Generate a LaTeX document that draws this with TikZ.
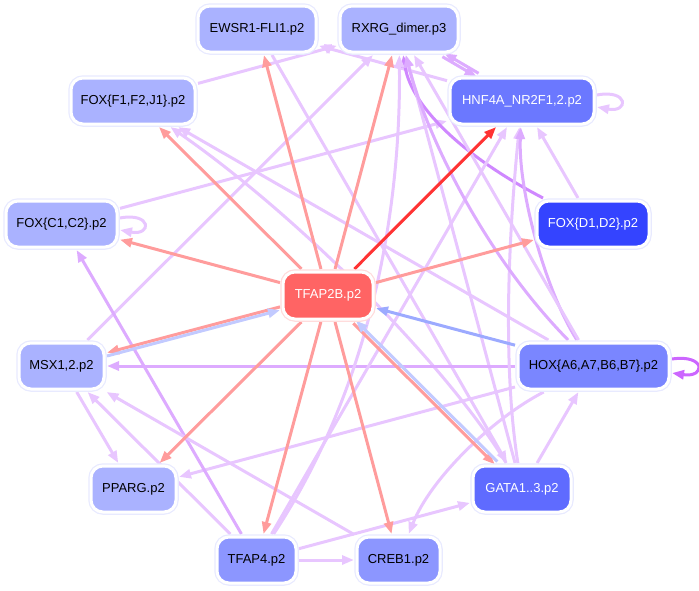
\documentclass[tikz,border=0pt]{standalone}
\usepackage{fontspec}
\setmainfont{Liberation Sans}
\usetikzlibrary{arrows.meta}
\definecolor{nlight}{HTML}{AAB2FF}
\definecolor{nmid}{HTML}{8C96FF}
\definecolor{nhox}{HTML}{7A86FF}
\definecolor{nhnf}{HTML}{6B78FF}
\definecolor{ngata}{HTML}{5F6BFF}
\definecolor{nfoxd}{HTML}{3444FF}
\definecolor{ntf}{HTML}{FF6464}
\definecolor{ringb}{HTML}{E8EAFF}
\definecolor{ringr}{HTML}{FFDCDC}
\definecolor{epink}{HTML}{FF9C9C}
\definecolor{ered}{HTML}{FF3333}
\definecolor{elb}{HTML}{C2CAFF}
\definecolor{ebl}{HTML}{9CAAFF}
\definecolor{elav}{HTML}{E8C6FF}
\definecolor{elavm}{HTML}{DDABFF}
\definecolor{elavd}{HTML}{CF88FF}
\definecolor{eloop}{HTML}{CC66FF}
\pgfdeclarelayer{edgelayer}
\pgfsetlayers{edgelayer,main}
\tikzset{
  nd/.style n args={3}{rectangle, rounded corners=12pt, minimum height=46pt,
    inner sep=0pt, outer sep=3pt, fill=#1, text=#2,
    preaction={draw=#3, line width=5.5pt}, draw=white, line width=3pt,
    font=\fontsize{13}{15}\selectfont},
  ed/.style={line width=3pt, -{Triangle[length=12pt,width=9pt]}},
  pk/.style={ed, draw=epink},
  rd/.style={ed, draw=ered},
  lb/.style={ed, draw=elb},
  bl/.style={ed, draw=ebl},
  lv/.style={ed, draw=elav},
  lvm/.style={ed, draw=elavm},
  lvd/.style={ed, draw=elavd},
  lvl/.style={ed, draw=eloop}
}
\begin{document}
\begin{tikzpicture}[x=1pt,y=-1pt]
\useasboundingbox (0,0) rectangle (699,590);
\node[nd={nlight}{black}{ringb}, minimum width=118pt] (ewsr1) at (257,29) {EWSR1-FLI1.p2};
\node[nd={nlight}{black}{ringb}, minimum width=118pt] (rxrg) at (399,29) {RXRG\_dimer.p3};
\node[nd={nlight}{black}{ringb}, minimum width=124pt] (foxf) at (133,101) {FOX\{F1,F2,J1\}.p2};
\node[nd={nhnf}{white}{ringb}, minimum width=144pt] (hnf4a) at (522,101) {HNF4A\_NR2F1,2.p2};
\node[nd={nlight}{black}{ringb}, minimum width=111pt] (foxc) at (61.5,224) {FOX\{C1,C2\}.p2};
\node[nd={nfoxd}{white}{ringb}, minimum width=112pt] (foxd) at (593,224) {FOX\{D1,D2\}.p2};
\node[nd={ntf}{white}{ringr}, minimum width=90pt, minimum height=47pt] (tfap2b) at (328,295.5) {TFAP2B.p2};
\node[nd={nlight}{black}{ringb}, minimum width=85pt] (msx) at (61.5,366) {MSX1,2.p2};
\node[nd={nhox}{black}{ringb}, minimum width=151pt] (hox) at (593.5,366) {HOX\{A6,A7,B6,B7\}.p2};
\node[nd={nlight}{black}{ringb}, minimum width=85pt] (pparg) at (133.5,489) {PPARG.p2};
\node[nd={ngata}{white}{ringb}, minimum width=98pt] (gata) at (522,489) {GATA1..3.p2};
\node[nd={nmid}{black}{ringb}, minimum width=79pt] (tfap4) at (256.5,560) {TFAP4.p2};
\node[nd={nmid}{black}{ringb}, minimum width=83pt] (creb1) at (398.5,560) {CREB1.p2};
\begin{pgfonlayer}{edgelayer}
% lavender edges
\draw[lv] (foxf) -- (rxrg);
\draw[lv] (hnf4a) -- (ewsr1);
\draw[lvm, transform canvas={xshift=-1pt,yshift=-1.7pt}] (rxrg) -- (hnf4a);
\draw[lvm, transform canvas={xshift=1pt,yshift=1.7pt}] (hnf4a) -- (rxrg);
\draw[lv] (foxc) -- (hnf4a);
\draw[lv] (hox) -- (foxf);
\draw[lv] (gata) .. controls (447,366) and (300,217) .. (foxf);
\draw[lvd] (foxd) .. controls (470,160) and (412,110) .. (rxrg);
\draw[lv] (foxd) -- (hnf4a);
\draw[lv] (msx) -- (rxrg);
\draw[lv] (ewsr1) -- (gata);
\draw[lv] (gata) -- (rxrg);
\draw[lvm] (hox) -- (msx);
\draw[lv] (hox) -- (pparg);
\draw[lv] (hox) .. controls (490,420) and (430,480) .. (creb1);
\draw[lv] (gata) -- (hox);
\draw[lv] (tfap4) -- (creb1);
\draw[lv] (tfap4) -- (gata);
\draw[lv] (msx) -- (pparg);
\draw[lvm] (tfap4) -- (foxc);
\draw[lv] (tfap4) -- (msx);
\draw[lv] (creb1) -- (msx);
\draw[lv] (tfap4) -- (hnf4a);
\draw[lv] (tfap4) .. controls (375,380) and (401,200) .. (rxrg);
\draw[lv] (gata) .. controls (500,350) and (512,200) .. (hnf4a);
\draw[lvm] (hox) .. controls (545,290) and (518,190) .. (hnf4a);
\draw[lv] (hox) -- (rxrg);
\draw[lvm] (hox) .. controls (480,250) and (425,130) .. (rxrg);
% self loops
\draw[lv] ([yshift=6pt]foxc.east) .. controls +(32,-6) and +(32,6) .. ([yshift=-6pt]foxc.east);
\draw[lv] ([yshift=6pt]hnf4a.east) .. controls +(32,-6) and +(32,6) .. ([yshift=-6pt]hnf4a.east);
\draw[lvl] ([yshift=7pt]hox.east) .. controls +(34,-5) and +(34,5) .. ([yshift=-7pt]hox.east);
% edges from TFAP2B
\draw[pk] (tfap2b) -- (ewsr1);
\draw[pk] (tfap2b) -- (rxrg);
\draw[pk] (tfap2b) -- (foxf);
\draw[pk] (tfap2b) -- (foxc);
\draw[pk] (tfap2b) -- (foxd);
\draw[pk, transform canvas={yshift=1.3pt}] (tfap2b) -- (msx);
\draw[lb, transform canvas={yshift=-2pt}] (msx) -- (tfap2b);
\draw[pk] (tfap2b) -- (pparg);
\draw[pk] (tfap2b) -- (tfap4);
\draw[pk] (tfap2b) -- (creb1);
\draw[pk, transform canvas={xshift=-1.3pt,yshift=-1.3pt}] (tfap2b) -- (gata);
\draw[lb, transform canvas={xshift=1.4pt,yshift=1.4pt}] (gata) -- (tfap2b);
\draw[bl] (hox) -- (tfap2b);
\draw[rd] (tfap2b) -- (hnf4a);
\end{pgfonlayer}
\end{tikzpicture}
\end{document}
